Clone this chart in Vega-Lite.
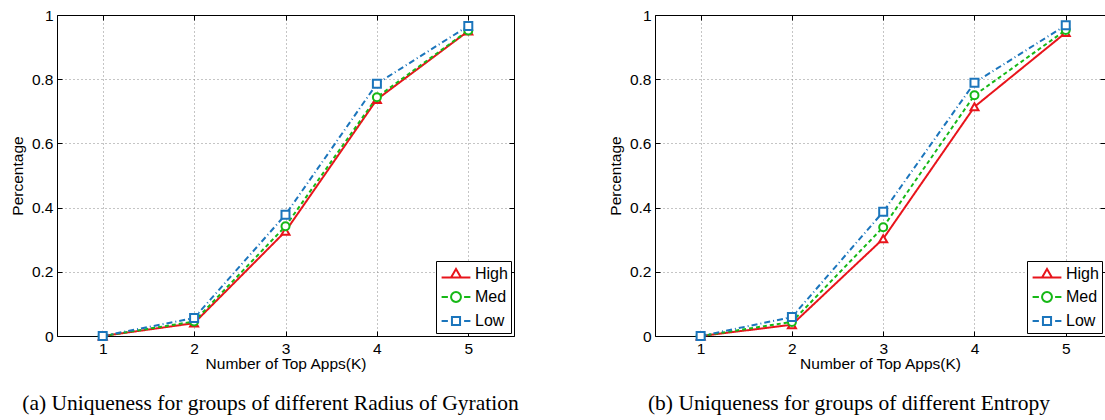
{
  "$schema": "https://vega.github.io/schema/vega-lite/v6.json",
  "padding": {"left": 10, "top": 8, "right": 0, "bottom": 0},
  "background": "white",
  "spacing": 89,
  "resolve": {"legend": {"color": "independent"}},
  "datasets": {
    "a": [
      {"k": 1, "group": "High", "series": "High", "pct": 0.0}, {"k": 1, "group": "Med", "series": "Med", "pct": 0.0}, {"k": 1, "group": "Low", "series": "Low", "pct": 0.0},
      {"k": 2, "group": "High", "series": "High", "pct": 0.04}, {"k": 2, "group": "Med", "series": "Med", "pct": 0.045}, {"k": 2, "group": "Low", "series": "Low", "pct": 0.056},
      {"k": 3, "group": "High", "series": "High", "pct": 0.326}, {"k": 3, "group": "Med", "series": "Med", "pct": 0.342}, {"k": 3, "group": "Low", "series": "Low", "pct": 0.378},
      {"k": 4, "group": "High", "series": "High", "pct": 0.737}, {"k": 4, "group": "Med", "series": "Med", "pct": 0.744}, {"k": 4, "group": "Low", "series": "Low", "pct": 0.786},
      {"k": 5, "group": "High", "series": "High", "pct": 0.95}, {"k": 5, "group": "Med", "series": "Med", "pct": 0.952}, {"k": 5, "group": "Low", "series": "Low", "pct": 0.966}
    ],
    "b": [
      {"k": 1, "group": "High", "series": "High", "pct": 0.0}, {"k": 1, "group": "Med", "series": "Med", "pct": 0.0}, {"k": 1, "group": "Low", "series": "Low", "pct": 0.0},
      {"k": 2, "group": "High", "series": "High", "pct": 0.035}, {"k": 2, "group": "Med", "series": "Med", "pct": 0.044}, {"k": 2, "group": "Low", "series": "Low", "pct": 0.059},
      {"k": 3, "group": "High", "series": "High", "pct": 0.303}, {"k": 3, "group": "Med", "series": "Med", "pct": 0.339}, {"k": 3, "group": "Low", "series": "Low", "pct": 0.387},
      {"k": 4, "group": "High", "series": "High", "pct": 0.714}, {"k": 4, "group": "Med", "series": "Med", "pct": 0.75}, {"k": 4, "group": "Low", "series": "Low", "pct": 0.789},
      {"k": 5, "group": "High", "series": "High", "pct": 0.945}, {"k": 5, "group": "Med", "series": "Med", "pct": 0.953}, {"k": 5, "group": "Low", "series": "Low", "pct": 0.968}
    ]
  },
  "config": {
    "view": {"stroke": null},
    "axis": {
      "labelFont": "Liberation Sans", "labelFontSize": 15.5, "labelColor": "black",
      "titleFont": "Liberation Sans", "titleFontSize": 15.5, "titleFontWeight": "normal", "titleColor": "black",
      "domainColor": "black", "domainWidth": 1, "tickColor": "black", "tickWidth": 1,
      "gridColor": "#8a8a8a", "gridDash": [1, 3], "gridWidth": 1
    }
  },
  "hconcat": [
    {
      "width": 457, "height": 321,
      "data": {"name": "a"},
      "title": {"text": "(a) Uniqueness for groups of different Radius of Gyration", "orient": "bottom", "anchor": "middle", "frame": "bounds", "font": "Liberation Serif", "fontSize": 21.5, "fontWeight": "normal", "color": "black", "offset": 21, "dx": 8},
      "resolve": {"axis": {"x": "independent", "y": "independent"}},
      "layer": [
        {
          "mark": {"type": "line", "strokeWidth": 2},
          "encoding": {
            "x": {"field": "k", "type": "quantitative", "scale": {"domain": [0.5, 5.5], "nice": false, "zero": false},
              "axis": {"orient": "bottom", "values": [1, 2, 3, 4, 5], "title": "Number of Top Apps(K)", "grid": true, "domain": true, "tickSize": -5, "labelPadding": 10, "titlePadding": 0, "labelFlush": false}},
            "y": {"field": "pct", "type": "quantitative", "scale": {"domain": [0, 1], "nice": false, "zero": false},
              "axis": {"orient": "left", "values": [0, 0.2, 0.4, 0.6, 0.8, 1], "format": "~g", "title": "Percentage", "grid": true, "domain": true, "tickSize": -5, "labelPadding": 9, "titlePadding": 6}},
            "color": {"field": "group", "type": "nominal", "scale": {"domain": ["High", "Med", "Low"], "range": ["#e8141b", "#16b816", "#1b75bc"]},
              "legend": {
                "orient": "bottom-right", "offset": 3, "title": null,
                "strokeColor": "black", "fillColor": "white", "padding": 3,
                "labelFont": "Liberation Sans", "labelFontSize": 16, "labelColor": "black", "labelOffset": 9,
                "symbolSize": 324, "symbolStrokeWidth": 2, "rowPadding": 5, "symbolOffset": 7,
                "encode": {"symbols": {"update": {
                  "shape": {"signal": "datum.value === 'High' ? 'M-1.6,0.4H1.6M-0.55,0.4L0,-0.55L0.55,0.4Z' : datum.value === 'Med' ? 'M-1.6,0H-0.9M0.9,0H1.6M0.55,0A0.55,0.55 0 1,1 -0.55,0A0.55,0.55 0 1,1 0.55,0Z' : 'M-1.6,0H-0.9M0.9,0H1.6M-0.45,-0.45H0.45V0.45H-0.45Z'"},
                  "fill": {"value": "white"},
                  "strokeWidth": {"value": 2}
                }}}
              }},
            "strokeDash": {"field": "series", "type": "nominal", "scale": {"domain": ["High", "Med", "Low"], "range": [[1, 0], [4, 3], [6, 3, 1, 3]]}, "legend": null}
          }
        },
        {
          "mark": {"type": "point", "filled": true, "fill": "white", "strokeWidth": 2, "size": 64, "opacity": 1},
          "encoding": {
            "x": {"field": "k", "type": "quantitative", "axis": {"orient": "top", "values": [1, 2, 3, 4, 5], "labels": false, "title": null, "grid": false, "domain": true, "tickSize": -5}},
            "y": {"field": "pct", "type": "quantitative", "axis": {"orient": "right", "values": [0, 0.2, 0.4, 0.6, 0.8, 1], "labels": false, "title": null, "grid": false, "domain": true, "tickSize": -5}},
            "stroke": {"field": "series", "type": "nominal", "scale": {"domain": ["High", "Med", "Low"], "range": ["#e8141b", "#16b816", "#1b75bc"]}, "legend": null},
            "shape": {"field": "series", "type": "nominal", "scale": {"domain": ["High", "Med", "Low"], "range": ["triangle-up", "circle", "square"]}, "legend": null}
          }
        }
      ]
    },
    {
      "width": 450, "height": 321,
      "data": {"name": "b"},
      "title": {"text": "(b) Uniqueness for groups of different Entropy", "orient": "bottom", "anchor": "middle", "frame": "bounds", "font": "Liberation Serif", "fontSize": 21.5, "fontWeight": "normal", "color": "black", "offset": 21, "dx": -8},
      "resolve": {"axis": {"x": "independent", "y": "independent"}},
      "layer": [
        {
          "mark": {"type": "line", "strokeWidth": 2},
          "encoding": {
            "x": {"field": "k", "type": "quantitative", "scale": {"domain": [0.5, 5.43], "nice": false, "zero": false},
              "axis": {"orient": "bottom", "values": [1, 2, 3, 4, 5], "title": "Number of Top Apps(K)", "grid": true, "domain": true, "tickSize": -5, "labelPadding": 10, "titlePadding": 0, "labelFlush": false}},
            "y": {"field": "pct", "type": "quantitative", "scale": {"domain": [0, 1], "nice": false, "zero": false},
              "axis": {"orient": "left", "values": [0, 0.2, 0.4, 0.6, 0.8, 1], "format": "~g", "title": "Percentage", "grid": true, "domain": true, "tickSize": -5, "labelPadding": 9, "titlePadding": 6}},
            "color": {"field": "group", "type": "nominal", "scale": {"domain": ["High", "Med", "Low"], "range": ["#e8141b", "#16b816", "#1b75bc"]},
              "legend": {
                "orient": "bottom-right", "offset": 3, "title": null,
                "strokeColor": "black", "fillColor": "white", "padding": 3,
                "labelFont": "Liberation Sans", "labelFontSize": 16, "labelColor": "black", "labelOffset": 9,
                "symbolSize": 324, "symbolStrokeWidth": 2, "rowPadding": 5, "symbolOffset": 7,
                "encode": {"symbols": {"update": {
                  "shape": {"signal": "datum.value === 'High' ? 'M-1.6,0.4H1.6M-0.55,0.4L0,-0.55L0.55,0.4Z' : datum.value === 'Med' ? 'M-1.6,0H-0.9M0.9,0H1.6M0.55,0A0.55,0.55 0 1,1 -0.55,0A0.55,0.55 0 1,1 0.55,0Z' : 'M-1.6,0H-0.9M0.9,0H1.6M-0.45,-0.45H0.45V0.45H-0.45Z'"},
                  "fill": {"value": "white"},
                  "strokeWidth": {"value": 2}
                }}}
              }},
            "strokeDash": {"field": "series", "type": "nominal", "scale": {"domain": ["High", "Med", "Low"], "range": [[1, 0], [4, 3], [6, 3, 1, 3]]}, "legend": null}
          }
        },
        {
          "mark": {"type": "point", "filled": true, "fill": "white", "strokeWidth": 2, "size": 64, "opacity": 1},
          "encoding": {
            "x": {"field": "k", "type": "quantitative", "axis": {"orient": "top", "values": [1, 2, 3, 4, 5], "labels": false, "title": null, "grid": false, "domain": true, "tickSize": -5}},
            "y": {"field": "pct", "type": "quantitative", "axis": {"orient": "right", "values": [0, 0.2, 0.4, 0.6, 0.8, 1], "labels": false, "title": null, "grid": false, "domain": false, "tickSize": -5}},
            "stroke": {"field": "series", "type": "nominal", "scale": {"domain": ["High", "Med", "Low"], "range": ["#e8141b", "#16b816", "#1b75bc"]}, "legend": null},
            "shape": {"field": "series", "type": "nominal", "scale": {"domain": ["High", "Med", "Low"], "range": ["triangle-up", "circle", "square"]}, "legend": null}
          }
        }
      ]
    }
  ]
}
